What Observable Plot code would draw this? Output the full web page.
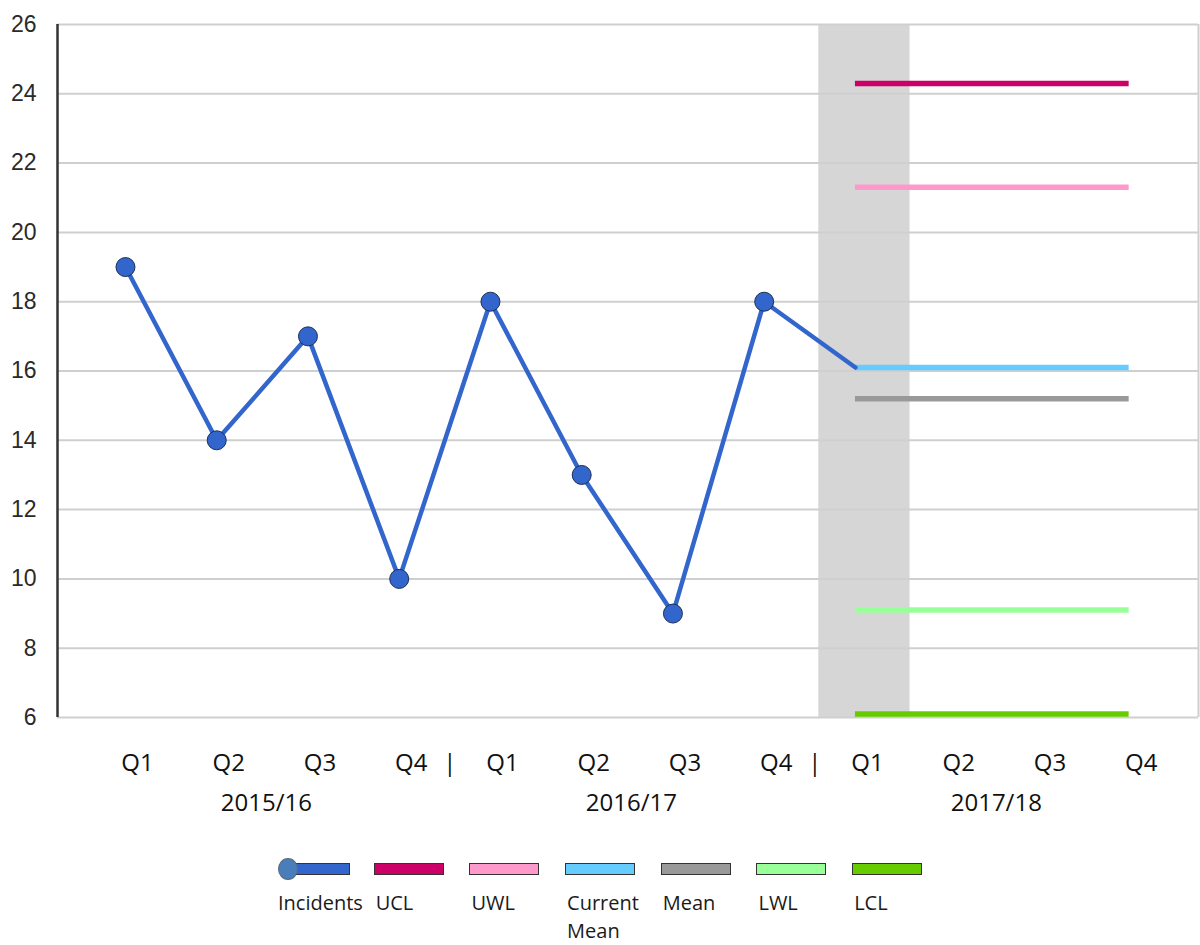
<!DOCTYPE html>
<html>
<head>
<meta charset="utf-8">
<script src="https://cdn.jsdelivr.net/npm/d3@7"></script>
<script src="https://cdn.jsdelivr.net/npm/@observablehq/plot@0.6"></script>
<style>
  html, body { margin: 0; padding: 0; background: #fff; }
  #chart { width: 1200px; }
  #legend { display: flex; padding-left: 278px; height: 105px; box-sizing: border-box; font-family: "Open Sans", sans-serif; font-size: 20px; color: #1a1a1a; }
  .item { width: 95.7px; position: relative; }
  .sw { position: absolute; top: 23px; left: 0; width: 70px; height: 12px; box-sizing: border-box; border: 1.5px solid #333; }
  .dotsw { position: absolute; top: 18px; left: 0; width: 20px; height: 22px; border-radius: 50%; background: #4a7ebb; border: 1px solid #5a6a80; box-sizing: border-box; }
  .lab { position: absolute; top: 49px; left: 2px; line-height: 28px; white-space: nowrap; }
</style>
</head>
<body>
<div id="chart"></div>
<div id="legend"></div>
<script>
// ---- data ----
const quarterLabels = ["Q1","Q2","Q3","Q4","Q1","Q2","Q3","Q4","Q1","Q2","Q3","Q4"];
const yearLabels = ["2015/16","2016/17","2017/18"];
const incidents = [19, 14, 17, 10, 18, 13, 9, 18];
const limitNames = ["UCL","UWL","Current Mean","Mean","LWL","LCL"];
const limitValues = [24.3, 21.3, 16.1, 15.2, 9.1, 6.1];
const limitColors = ["#cc0066","#ff99cc","#66ccff","#999999","#99ff99","#66cc00"];
const yTicks = [6, 8, 10, 12, 14, 16, 18, 20, 22, 24, 26];
const highlightQuarter = 8;   // index of the current quarter (Q1 2017/18)
const limitStartQuarter = 8;
const limitEndQuarter = 11;
const incidentColor = "#3366cc";

// ---- derived tables ----
const incidentData = incidents.map((v, i) => ({i, v}));
const currentMean = limitValues[limitNames.indexOf("Current Mean")];
const lineData = incidentData.concat([{i: limitStartQuarter, v: currentMean}]);
const limits = limitNames.map((n, k) => ({name: n, value: limitValues[k], color: limitColors[k]}));
const quarterData = quarterLabels.map((q, i) => ({i, q}));
const separators = [3.5, 7.5];
const yearData = yearLabels.map((y, k) => ({y, i: k * 4 + 1.5}));
const xDomain = [-0.745, 11.76];

const chart = Plot.plot({
  width: 1200,
  height: 840,
  marginLeft: 57,
  marginRight: 2,
  marginTop: 24,
  marginBottom: 123,
  x: {domain: xDomain, axis: null},
  y: {domain: [6, 26]},
  style: {fontFamily: "Liberation Sans, Arial, sans-serif", overflow: "visible", background: "#fff"},
  marks: [
    Plot.rect([{a: highlightQuarter - 0.5, b: highlightQuarter + 0.5}], {x1: "a", x2: "b", y1: 6, y2: 26, fill: "#d6d6d6", dx: 9}),
    Plot.gridY(yTicks, {stroke: "#cfcfcf", strokeOpacity: 1, strokeWidth: 2}),
    Plot.ruleX([xDomain[1]], {y1: 6, y2: 26, stroke: "#cfcfcf", strokeWidth: 2}),
    Plot.ruleX([xDomain[0]], {y1: 6, y2: 26, stroke: "#333", strokeWidth: 2.5}),
    Plot.axisY({ticks: yTicks, tickSize: 0, tickPadding: 21, fontSize: 23, fill: "#2a2a2a", label: null}),
    Plot.ruleY(limits, {y: "value", x1: limitStartQuarter, x2: limitEndQuarter, stroke: "color", strokeWidth: 5.5}),
    Plot.line(lineData, {x: "i", y: "v", stroke: incidentColor, strokeWidth: 4.5}),
    Plot.dot(incidentData, {x: "i", y: "v", r: 9.5, fill: incidentColor, stroke: "#1e2e55", strokeWidth: 1}),
    Plot.text(quarterData, {x: "i", text: "q", frameAnchor: "bottom", lineAnchor: "middle", dy: 46, dx: 12, fontSize: 24, fontFamily: "Open Sans", fill: "#111"}),
    Plot.text(separators, {x: d => d, text: () => "|", frameAnchor: "bottom", lineAnchor: "middle", dy: 46, dx: 5, fontSize: 24, fontFamily: "Open Sans", fill: "#111"}),
    Plot.text(yearData, {x: "i", text: "y", frameAnchor: "bottom", lineAnchor: "middle", dy: 86, dx: 4, fontSize: 24, fontFamily: "Open Sans", fill: "#111"})
  ]
});
document.getElementById("chart").appendChild(chart);

// ---- legend ----
const legend = document.getElementById("legend");
const legendItems = [{name: "Incidents", color: incidentColor, dot: true}].concat(limits.map(l => ({name: l.name, color: l.color})));
legendItems.forEach(it => {
  const d = document.createElement("div");
  d.className = "item";
  const sw = document.createElement("div");
  sw.className = "sw";
  sw.style.background = it.color;
  if (it.dot) { sw.style.left = "10px"; sw.style.width = "62px"; }
  d.appendChild(sw);
  if (it.dot) {
    const c = document.createElement("div");
    c.className = "dotsw";
    d.appendChild(c);
  }
  const lab = document.createElement("div");
  lab.className = "lab";
  if (it.dot) lab.style.left = "0px";
  lab.innerHTML = it.name === "Current Mean" ? "Current<br>Mean" : it.name;
  d.appendChild(lab);
  legend.appendChild(d);
});
</script>
</body>
</html>
